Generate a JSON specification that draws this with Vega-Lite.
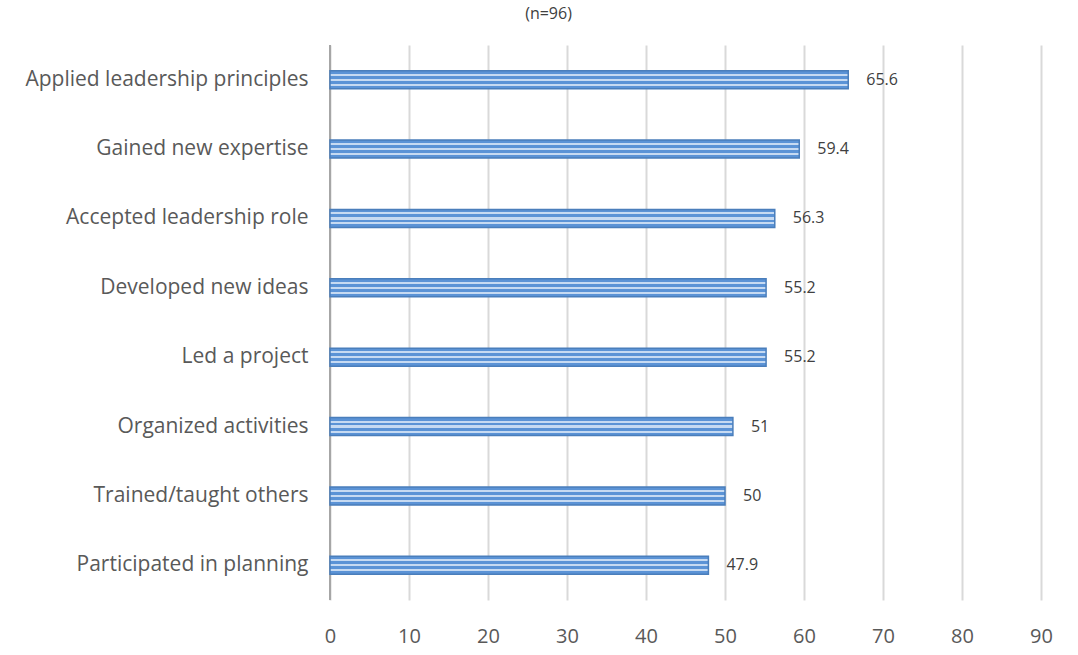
{
  "$schema": "https://vega.github.io/schema/vega-lite/v6.json",
  "autosize": "none",
  "padding": {"left": 330, "top": 45, "right": 37, "bottom": 55},
  "width": 711,
  "height": 555,
  "background": "white",
  "title": {"text": "(n=96)", "anchor": "middle", "frame": "group", "dx": -137, "offset": 6, "fontSize": 16, "font": "Open Sans", "fontWeight": "normal", "color": "#404040", "baseline": "bottom"},
  "data": {"values": [
    {"item": "Applied leadership principles", "pct": 65.6},
    {"item": "Gained new expertise", "pct": 59.4},
    {"item": "Accepted leadership role", "pct": 56.3},
    {"item": "Developed new ideas", "pct": 55.2},
    {"item": "Led a project", "pct": 55.2},
    {"item": "Organized activities", "pct": 51},
    {"item": "Trained/taught others", "pct": 50},
    {"item": "Participated in planning", "pct": 47.9}
  ]},
  "encoding": {
    "y": {"field": "item", "type": "nominal", "sort": null,
      "axis": {"title": null, "labelFont": "Open Sans", "labelFontSize": 21, "labelColor": "#595959", "labelPadding": 22, "ticks": false, "domain": false, "labelLimit": 400}},
    "x": {"field": "pct", "type": "quantitative", "scale": {"domain": [0, 90], "nice": false},
      "axis": {"title": null, "values": [0,10,20,30,40,50,60,70,80,90], "labelFlush": false, "labelFont": "Open Sans", "labelFontSize": 20, "labelColor": "#595959", "labelPadding": 26, "ticks": false, "domain": false, "grid": true, "gridColor": "#d9d9d9", "gridWidth": 2}}
  },
  "layer": [
    {"mark": {"type": "rule", "color": "#a6a6a6", "strokeWidth": 2}, "data": {"values": [{"z": 0}]}, "encoding": {"x": {"field": "z", "type": "quantitative"}, "y": null}},
    {"mark": {"type": "bar", "size": 18, "stroke": "#4a7ebb", "strokeWidth": 1.5,
      "fill": {"gradient": "linear", "x1": 0, "y1": 0, "x2": 0, "y2": 1, "stops": [
        {"offset": 0, "color": "#5b93d6"}, {"offset": 0.17, "color": "#5b93d6"},
        {"offset": 0.17, "color": "#c6daf2"}, {"offset": 0.28, "color": "#c6daf2"},
        {"offset": 0.28, "color": "#5b93d6"}, {"offset": 0.44, "color": "#5b93d6"},
        {"offset": 0.44, "color": "#c6daf2"}, {"offset": 0.56, "color": "#c6daf2"},
        {"offset": 0.56, "color": "#5b93d6"}, {"offset": 0.72, "color": "#5b93d6"},
        {"offset": 0.72, "color": "#c6daf2"}, {"offset": 0.83, "color": "#c6daf2"},
        {"offset": 0.83, "color": "#5b93d6"}, {"offset": 1, "color": "#5b93d6"}
      ]}}},
    {"mark": {"type": "text", "align": "left", "dx": 18, "font": "Open Sans", "fontSize": 16, "color": "#404040"},
      "encoding": {"text": {"field": "pct", "type": "quantitative"}}}
  ],
  "config": {"view": {"stroke": null}}
}
